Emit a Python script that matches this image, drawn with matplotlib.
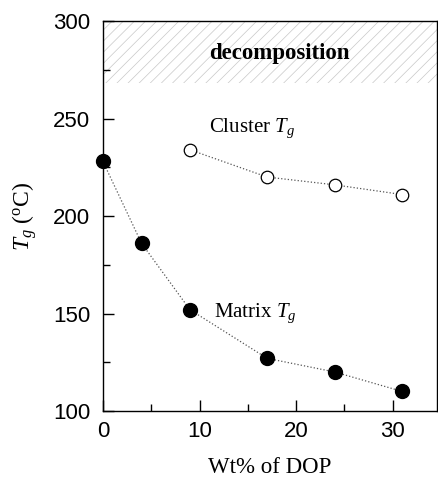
import matplotlib.pyplot as plt
from matplotlib.ticker import MultipleLocator
from matplotlib.patches import Rectangle

plt.rcParams['hatch.linewidth'] = 0.5
plt.rcParams['mathtext.fontset'] = 'custom'
plt.rcParams['mathtext.it'] = 'Liberation Serif:italic'
plt.rcParams['mathtext.rm'] = 'Liberation Serif'

# matrix Tg (filled) and cluster Tg (open)
matrix_x = [0, 4, 9, 17, 24, 31]
matrix_tg = [228, 186, 152, 127, 120, 110]
cluster_x = [9, 17, 24, 31]
cluster_tg = [234, 220, 216, 211]

decomp_lo, decomp_hi = 268, 300

fig = plt.figure(figsize=(4.38, 4.79), dpi=100)
ax = fig.add_axes([0.235, 0.142, 0.763, 0.814])

ax.add_patch(Rectangle((0, decomp_lo), 40, decomp_hi - decomp_lo, fill=False,
                       edgecolor='#c8c8c8', linewidth=0, hatch='///', zorder=0))

ax.plot(matrix_x, matrix_tg, linestyle=':', color='#555555', linewidth=0.9, zorder=1)
ax.plot(cluster_x, cluster_tg, linestyle=':', color='#555555', linewidth=0.9, zorder=1)
ax.plot(matrix_x, matrix_tg, 'o', color='black', markersize=10, zorder=3, clip_on=False)
ax.plot(cluster_x, cluster_tg, 'o', markerfacecolor='white', markeredgecolor='black',
        markeredgewidth=0.9, markersize=9, zorder=3)

serif = 'Liberation Serif'
ax.text(18.3, 283.5, 'decomposition', family=serif, fontsize=16.5, fontweight='bold',
        ha='center', va='center')
ax.text(11, 245, 'Cluster $T_g$', family=serif, fontsize=15, ha='left', va='center')
ax.text(11.5, 150, 'Matrix $T_g$', family=serif, fontsize=15, ha='left', va='center')

ax.set_xlim(0, 34.6)
ax.set_ylim(100, 300)
ax.xaxis.set_major_locator(MultipleLocator(10))
ax.xaxis.set_minor_locator(MultipleLocator(5))
ax.yaxis.set_major_locator(MultipleLocator(50))
ax.yaxis.set_minor_locator(MultipleLocator(25))
ax.tick_params(which='both', direction='in', top=False, right=False, width=1.0)
ax.tick_params(which='major', length=8, labelsize=16)
ax.tick_params(axis='y', which='major', pad=9)
ax.tick_params(axis='x', which='major', pad=7)
ax.tick_params(which='minor', length=5)
for lab in ax.get_xticklabels() + ax.get_yticklabels():
    lab.set_family('Liberation Sans')

ax.set_xlabel('Wt% of DOP', family=serif, fontsize=16.5, labelpad=11)
ax.set_ylabel(r'$T_g$ ($\mathrm{^oC}$)', family=serif, fontsize=17, labelpad=10)

for s in ax.spines.values():
    s.set_linewidth(1.0)

fig.savefig('out.png', dpi=100)
